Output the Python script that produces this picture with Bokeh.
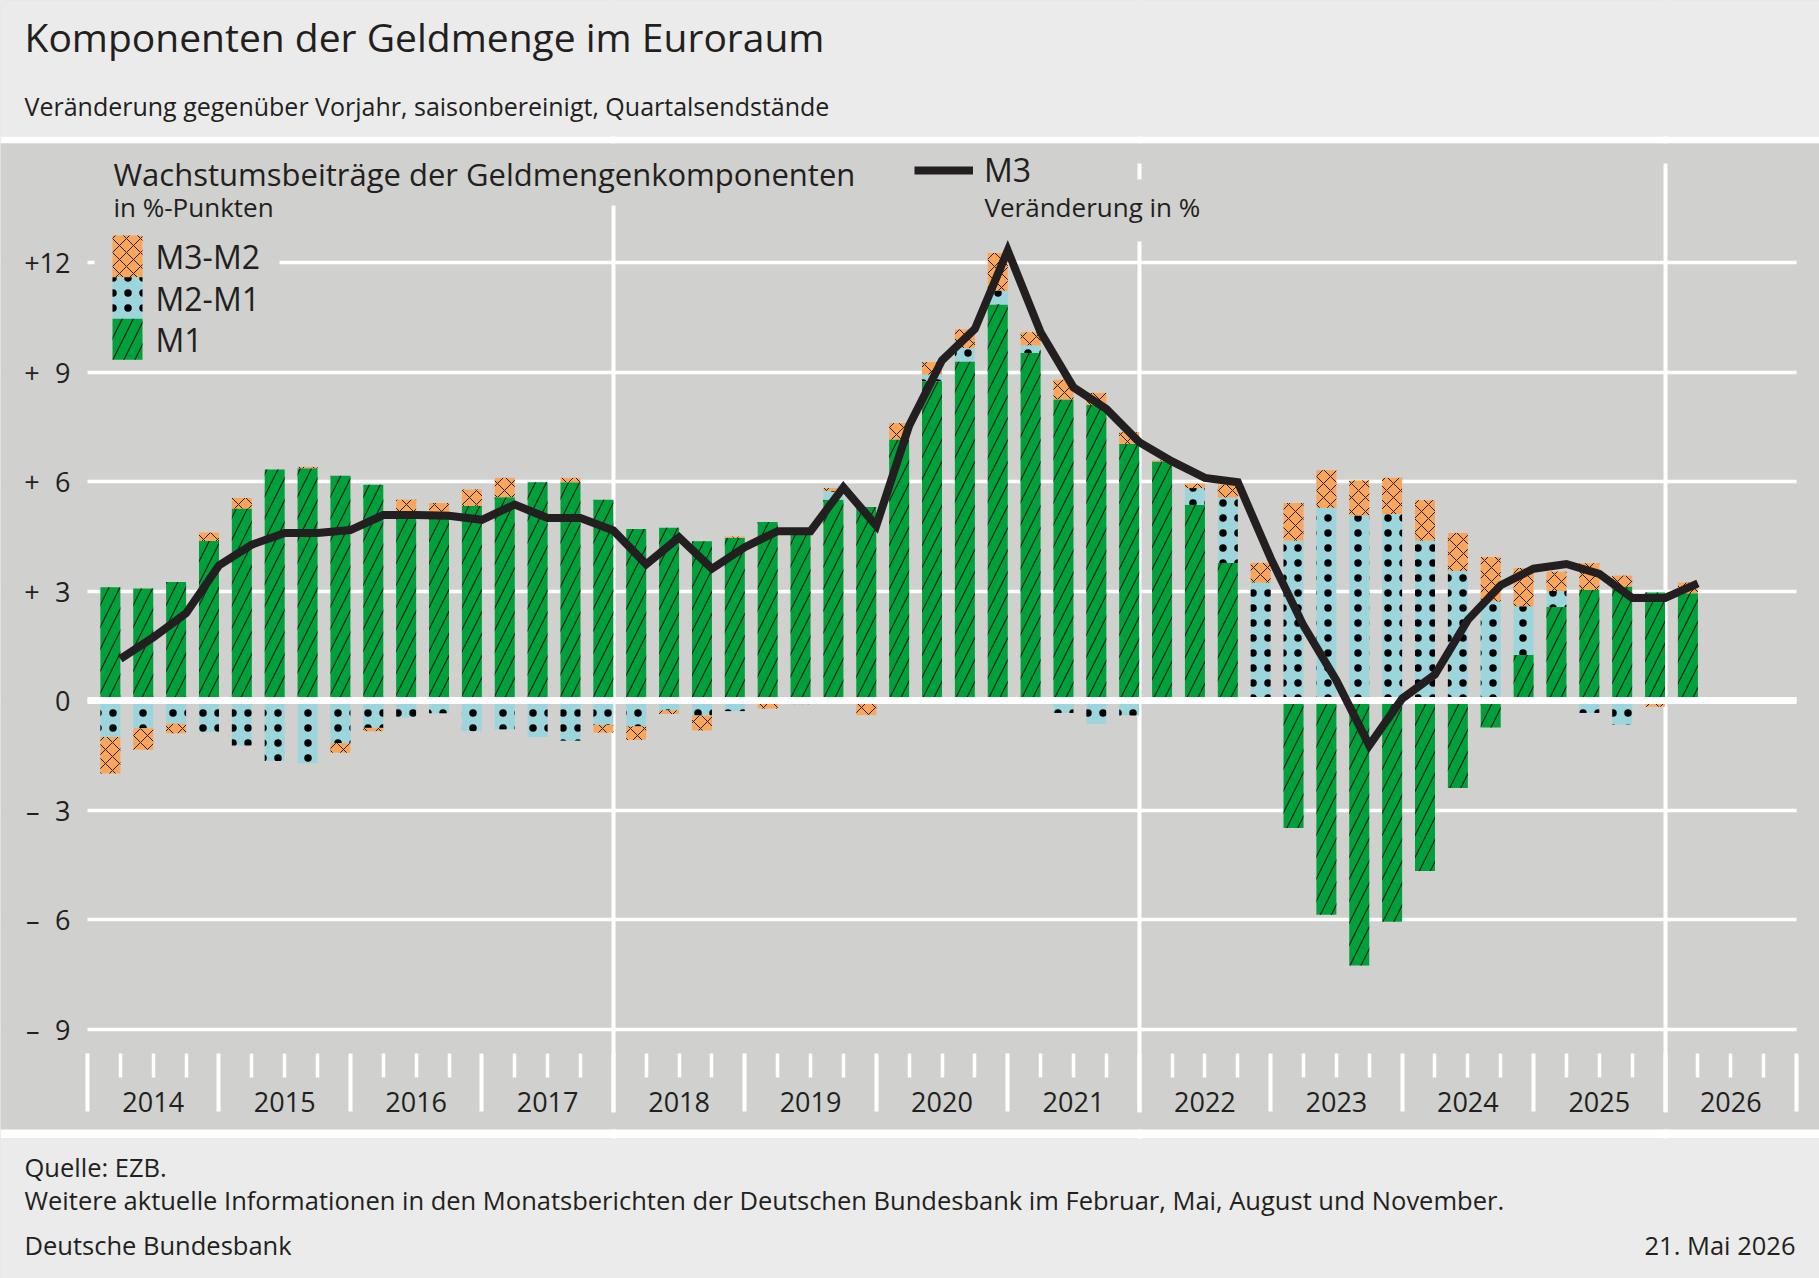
import numpy as np
from bokeh.plotting import figure
from bokeh.models import (Range1d, FixedTicker, LinearAxis, Legend, LegendItem, Label,
                          BoxAnnotation, ColumnDataSource)
from bokeh.embed import file_html
from bokeh.resources import INLINE
from bokeh.core.properties import value

# ---------------- data ----------------
quarters = [f"{y}Q{q}" for y in range(2014, 2027) for q in range(1, 5)][:49]  # 2014Q1 .. 2026Q1
year_labels = [str(y) for y in range(2014, 2027)]
y_ticks = [-9, -6, -3, 0, 3, 6, 9, 12]
y_tick_labels = ["\u2013\u20079", "\u2013\u20076", "\u2013\u20073", "0", "+\u20073", "+\u20076", "+\u20079", "+12"]

m1 = [3.10, 3.07, 3.25, 4.37, 5.26, 6.33, 6.36, 6.16, 5.91, 5.15,
      5.15, 5.33, 5.57, 5.98, 5.98, 5.50, 4.70, 4.73, 4.36, 4.46,
      4.89, 4.55, 5.50, 5.30, 7.15, 8.75, 9.29, 10.85, 9.52, 8.25,
      8.10, 7.03, 6.55, 5.36, 3.77, 0.00, -3.49, -5.87, -7.26, -6.06,
      -4.67, -2.40, -0.74, 1.25, 2.56, 3.03, 3.12, 2.96, 2.94]
m2_m1 = [-1.00, -0.76, -0.64, -0.87, -1.23, -1.66, -1.72, -1.17, -0.75, -0.46,
         -0.35, -0.84, -0.79, -1.00, -1.10, -0.67, -0.71, -0.27, -0.41, -0.29,
         0.00, 0.00, 0.24, 0.00, 0.00, 0.18, 0.37, 0.38, 0.21, -0.34,
         -0.64, -0.41, 0.00, 0.46, 1.79, 3.23, 4.38, 5.28, 5.07, 5.11,
         4.38, 3.55, 2.71, 1.33, 0.44, -0.34, -0.66, -0.05, 0.00]
m3_m2 = [-1.00, -0.59, -0.26, 0.23, 0.29, 0.00, 0.04, -0.26, -0.09, 0.35,
         0.26, 0.45, 0.53, 0.00, 0.12, -0.21, -0.37, -0.10, -0.41, 0.03,
         -0.22, -0.10, 0.08, -0.40, 0.45, 0.34, 0.51, 1.03, 0.36, 0.54,
         0.33, 0.32, 0.03, 0.12, 0.35, 0.54, 1.03, 1.03, 0.96, 0.99,
         1.11, 1.04, 1.22, 1.05, 0.53, 0.73, 0.30, -0.12, 0.29]
m3 = [1.14, 1.73, 2.39, 3.70, 4.27, 4.59, 4.59, 4.67, 5.08, 5.08,
      5.06, 4.95, 5.37, 5.00, 5.00, 4.66, 3.73, 4.47, 3.61, 4.20,
      4.64, 4.64, 5.84, 4.79, 7.53, 9.32, 10.18, 12.33, 10.09, 8.58,
      7.99, 7.08, 6.55, 6.10, 5.98, 3.90, 2.05, 0.55, -1.23, 0.05,
      0.71, 2.21, 3.16, 3.61, 3.74, 3.47, 2.81, 2.81, 3.21]

# ---------------- styles / layout ----------------
DARK = "#231f20"
GREY = "#d0d0ce"
LIGHT = "#ebebeb"
GREEN = "#00a03a"
CYAN = "#9dd5dc"
ORANGE = "#f9a65a"
FONT = "Open Sans"
W, H = 1819, 1278
PX_X0, PX_X1 = 87, 1796        # pixel position of 2014.0 and 2027.0
PX_ZERO, PX_UNIT = 700, 36.5   # pixel row of value 0, pixels per percentage point
PX_FRAME_TOP, PX_AXIS = 163, 1053

def sx(x_px):
    return x_px

def sy(y_px):
    return H - y_px

HATCH = {
    "M1": dict(fill_color=GREEN, hatch_pattern="/", hatch_color=DARK, hatch_scale=22, hatch_weight=1.2),
    "M2-M1": dict(fill_color=CYAN, hatch_pattern=".", hatch_color="black", hatch_scale=15, hatch_weight=3.0),
    "M3-M2": dict(fill_color=ORANGE, hatch_pattern="x", hatch_color=DARK, hatch_scale=14, hatch_weight=1.0),
}

year_vals = [int(y) for y in year_labels]
first_year, last_year = year_vals[0], year_vals[-1] + 1
px_per_year = (PX_X1 - PX_X0) / (last_year - first_year)
x_range = Range1d(first_year - PX_X0 / px_per_year, last_year + (W - PX_X1) / px_per_year)
y_range = Range1d(-(H - PX_ZERO) / PX_UNIT, PX_ZERO / PX_UNIT)
y_axis_loc = (PX_ZERO - PX_AXIS) / PX_UNIT

# quarter-end positions (end-of-quarter stocks)
n = len(quarters)
q_end = np.array([int(q[:4]) + int(q[-1]) / 4.0 for q in quarters])
bar_w = 0.152
x_bar = q_end - bar_w / 2

def stack(parts):
    pos = np.zeros(n)
    neg = np.zeros(n)
    out = []
    for arr in parts:
        a = np.array(arr, dtype=float)
        bottom = np.where(a >= 0, pos, neg)
        top = bottom + a
        pos = np.where(a >= 0, top, pos)
        neg = np.where(a < 0, top, neg)
        out.append((bottom, top))
    return out

(b1, t1), (b2, t2), (b3, t3) = stack([m1, m2_m1, m3_m2])
src = ColumnDataSource(dict(x=x_bar, b1=b1, t1=t1, b2=b2, t2=t2, b3=b3, t3=t3))

# ---------------- figure (frame = whole canvas) ----------------
p = figure(width=W, height=H, x_range=x_range, y_range=y_range,
           output_backend="svg", toolbar_location=None, min_border=0,
           x_axis_location=None, y_axis_location=None,
           background_fill_color=GREY, border_fill_color=GREY, outline_line_color=None)

# grids
p.ygrid.ticker = FixedTicker(ticks=y_ticks)
p.ygrid.grid_line_color = "white"
p.ygrid.grid_line_width = 3.3
p.xgrid.ticker = FixedTicker(ticks=[2018, 2022, 2026])
p.xgrid.grid_line_color = "white"
p.xgrid.grid_line_width = 4

def box(l, r, t, b, color, level="underlay", **kw):
    p.add_layout(BoxAnnotation(left=None if l is None else sx(l), right=None if r is None else sx(r),
                               top=sy(t), bottom=sy(b),
                               left_units="screen", right_units="screen",
                               top_units="screen", bottom_units="screen",
                               fill_color=color, fill_alpha=1.0, line_color=None, level=level, **kw))

# bands: header, separators, footer; masks that trim the grid lines to the plot area
box(None, None, 0, 136, LIGHT)
box(None, None, 136, 143, "white")
box(None, None, 143, PX_FRAME_TOP, GREY)
box(None, PX_X0, PX_FRAME_TOP, 1112, GREY)
box(PX_X1, None, PX_FRAME_TOP, 1112, GREY)
box(None, None, 1112, 1129, GREY)
box(None, None, 1129, 1138, "white")
box(None, None, 1138, H, LIGHT)

# y axis (labels only)
ya = LinearAxis(ticker=FixedTicker(ticks=y_ticks), fixed_location=first_year,
                major_label_overrides={t: l for t, l in zip(y_ticks, y_tick_labels)},
                axis_line_color=None, major_tick_line_color=None, minor_tick_line_color=None,
                major_tick_out=0, major_tick_in=0, major_label_standoff=17,
                major_label_text_font=FONT, major_label_text_font_size="27px",
                major_label_text_color=DARK)
p.add_layout(ya, "left")

# x axis: long ticks at year boundaries, short ticks at quarters
bounds = year_vals + [last_year]
mid_years = [y + 0.5 for y in year_vals]
quarter_ticks = [y + k / 4.0 for y in year_vals for k in range(1, 4)]
xa = LinearAxis(ticker=FixedTicker(ticks=bounds, minor_ticks=quarter_ticks), fixed_location=y_axis_loc,
                major_label_overrides={b: "" for b in bounds}, major_label_text_font_size="1px",
                axis_line_color=None,
                major_tick_line_color="white", major_tick_line_width=4, major_tick_out=58, major_tick_in=0,
                minor_tick_line_color="white", minor_tick_line_width=3.5, minor_tick_out=24, minor_tick_in=0)
p.add_layout(xa, "below")

# year labels centred in each year
xl = LinearAxis(ticker=FixedTicker(ticks=mid_years), fixed_location=y_axis_loc,
                major_label_overrides={m: l for m, l in zip(mid_years, year_labels)},
                major_label_standoff=38,
                major_label_text_font=FONT, major_label_text_font_size="27px",
                major_label_text_color=DARK,
                axis_line_color=None, major_tick_line_color=None,
                major_tick_out=0, major_tick_in=0, minor_tick_line_color=None)
p.add_layout(xl, "below")

# bars
r_m1 = p.vbar(x="x", width=bar_w, bottom="b1", top="t1", source=src, line_color=None, **HATCH["M1"])
r_m2 = p.vbar(x="x", width=bar_w, bottom="b2", top="t2", source=src, line_color=None, **HATCH["M2-M1"])
r_m3m2 = p.vbar(x="x", width=bar_w, bottom="b3", top="t3", source=src, line_color=None, **HATCH["M3-M2"])

# zero line
p.segment(x0=[first_year], x1=[last_year], y0=[0], y1=[0], line_color="white", line_width=7, line_cap="butt")

# M3 line
r_m3 = p.line(x=q_end, y=m3, line_color=DARK, line_width=8, line_join="miter", line_cap="butt")

# masks keeping the year lines clear of the panel texts
box(604, 621, PX_FRAME_TOP, 205, GREY, level="annotation")
box(1130, 1147, 179, 241, GREY, level="annotation")

# legend for the components: background, stacked swatches and labels
box(94, 279, 226, 368, GREY, level="annotation")
legend_rows = [("M3-M2", 235.0, 276.7), ("M2-M1", 276.7, 318.3), ("M1", 318.3, 359.3)]
for name, top, bot in legend_rows:
    p.add_layout(BoxAnnotation(left=sx(112), right=sx(142), top=sy(top), bottom=sy(bot),
                               left_units="screen", right_units="screen",
                               top_units="screen", bottom_units="screen",
                               fill_alpha=1.0, line_color=None, **HATCH[name]))
    p.add_layout(Label(x=sx(155), y=sy((top + bot) / 2), x_units="screen", y_units="screen",
                       text=name, text_baseline="middle",
                       text_font=FONT, text_font_size="32px", text_color=DARK))

# legend for M3 line
leg_m3 = Legend(items=[LegendItem(label=value("M3"), renderers=[r_m3])],
                location=(sx(914), sy(191)), glyph_width=59, glyph_height=32, padding=0,
                label_standoff=11, label_height=32,
                label_text_font=FONT, label_text_font_size="32px", label_text_color=DARK,
                background_fill_alpha=0, border_line_color=None)
p.add_layout(leg_m3, "center")

def text(x, y, s, size, align="left"):
    # y is the wanted baseline row; the label anchor sits ~0.4 em above it
    p.add_layout(Label(x=sx(x), y=sy(y - 0.4 * size), x_units="screen", y_units="screen", text=s,
                       text_align=align, text_baseline="alphabetic",
                       text_font=FONT, text_font_size=f"{size}px", text_color=DARK))

# header
text(24, 51.7, "Komponenten der Geldmenge im Euroraum", 39)
text(24, 115, "Veränderung gegenüber Vorjahr, saisonbereinigt, Quartalsendstände", 25)
# panel titles
text(113, 185.7, "Wachstumsbeiträge der Geldmengenkomponenten", 31)
text(113, 217.3, "in %-Punkten", 26)
text(984, 217.3, "Veränderung in %", 26)
# footer
text(24, 1177, "Quelle: EZB.", 25.5)
text(24, 1210, "Weitere aktuelle Informationen in den Monatsberichten der Deutschen Bundesbank im Februar, Mai, August und November.", 25.5)
text(24, 1255, "Deutsche Bundesbank", 25.5)
text(1795, 1255, "21. Mai 2026", 25.5, align="right")

open("out.html", "w").write(file_html(p, INLINE, title="Komponenten der Geldmenge im Euroraum"))
